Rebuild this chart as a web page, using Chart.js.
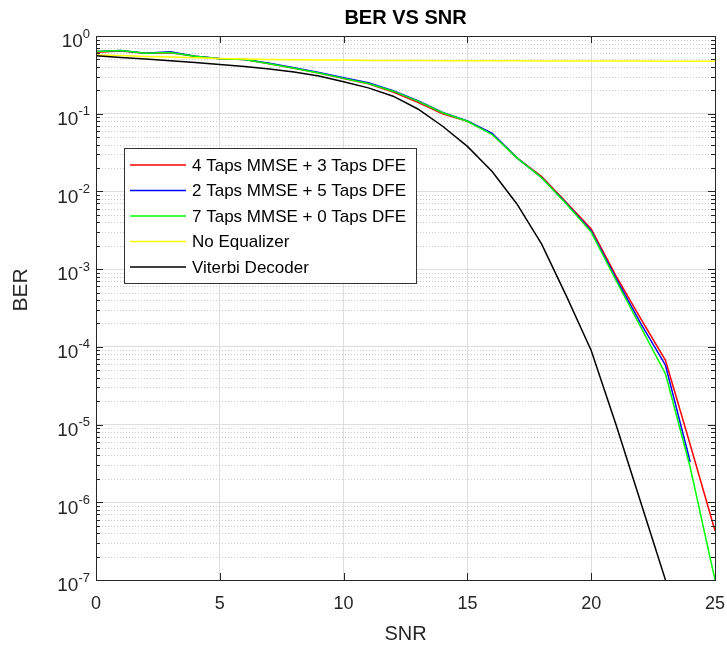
<!DOCTYPE html>
<html>
<head>
<meta charset="utf-8">
<script src="https://cdn.jsdelivr.net/npm/chart.js@4.4.1/dist/chart.umd.min.js"></script>
<style>
  html, body { margin: 0; padding: 0; background: #ffffff; }
  #wrap { width: 727px; height: 646px; position: relative; }
</style>
</head>
<body>
<div id="wrap"><canvas id="c"></canvas></div>
<script>
// ---- data ----
const snr = [0,1,2,3,4,5,6,7,8,9,10,11,12,13,14,15,16,17,18,19,20,21,22,23,24,25];
const mmse4dfe3 = [0.62,0.64,0.6,0.61,0.55,0.51,0.5,0.44,0.385,0.335,0.283,0.243,0.19,0.14,0.1,0.08,0.055,0.027,0.0155,0.0072,0.0033,8.2e-4,2.3e-4,6.7e-5,5.5e-6,4.3e-7];
const mmse2dfe5 = [0.63,0.65,0.6,0.625,0.55,0.515,0.5,0.445,0.39,0.338,0.29,0.25,0.197,0.147,0.104,0.081,0.056,0.027,0.015,0.007,0.0031,7.6e-4,2.0e-4,5.8e-5,3.3e-6,null];
const mmse7dfe0 = [0.63,0.65,0.6,0.615,0.55,0.51,0.5,0.44,0.385,0.335,0.285,0.245,0.195,0.145,0.103,0.08,0.054,0.027,0.015,0.0069,0.003,7.2e-4,1.8e-4,4.5e-5,2.8e-6,1e-7];
const noEqualizer = [0.57,0.56,0.545,0.535,0.525,0.515,0.505,0.5,0.495,0.49,0.49,0.485,0.485,0.485,0.48,0.48,0.48,0.48,0.478,0.478,0.478,0.476,0.476,0.475,0.475,0.475];
const viterbi = [0.555,0.53,0.505,0.48,0.455,0.43,0.405,0.375,0.345,0.305,0.258,0.215,0.168,0.115,0.069,0.038,0.018,0.0069,0.0021,4.5e-4,9e-5,1e-5,1e-6,1e-7,null,null];

const seriesLabels = ['4 Taps MMSE + 3 Taps DFE','2 Taps MMSE + 5 Taps DFE','7 Taps MMSE + 0 Taps DFE','No Equalizer','Viterbi Decoder'];
const seriesColors = ['#ff0000','#0000ff','#00ff00','#ffff00','#000000'];
const seriesValues = [mmse4dfe3, mmse2dfe5, mmse7dfe0, noEqualizer, viterbi];

const xTicks = [0,5,10,15,20,25];
const yExponents = [0,-1,-2,-3,-4,-5,-6,-7];
const chartTitle = 'BER VS SNR';
const xTitle = 'SNR';
const yTitle = 'BER';

const FONT = 'Arial, "Liberation Sans", Helvetica, sans-serif';
const AXIS = '#262626';

const datasets = seriesValues.map((vals, i) => ({
  label: seriesLabels[i],
  data: snr.map((x, j) => ({ x: x, y: vals[j] })),
  borderColor: seriesColors[i],
  backgroundColor: seriesColors[i],
  borderWidth: 1.5,
  pointRadius: 0,
  tension: 0,
  spanGaps: false,
  fill: false,
  order: seriesValues.length - i
}));

const overlay = {
  id: 'overlay',
  beforeDatasetsDraw(chart) {
    const { ctx, chartArea: a, scales: { y } } = chart;
    ctx.save();
    ctx.strokeStyle = '#cccccc';
    ctx.lineWidth = 1;
    ctx.setLineDash([1, 2]);
    for (let e = -7; e < 0; e++) {
      for (let k = 2; k <= 9; k++) {
        const py = Math.round(y.getPixelForValue(k * Math.pow(10, e))) + 0.5;
        ctx.beginPath();
        ctx.moveTo(a.left, py);
        ctx.lineTo(a.right, py);
        ctx.stroke();
      }
    }
    ctx.restore();
  },
  afterDatasetsDraw(chart) {
    const { ctx, chartArea: a, scales: { x, y } } = chart;
    ctx.save();
    // box
    ctx.strokeStyle = AXIS;
    ctx.lineWidth = 1;
    ctx.setLineDash([]);
    ctx.strokeRect(Math.round(a.left) + 0.5, Math.round(a.top) + 0.5, Math.round(a.right - a.left), Math.round(a.bottom - a.top));
    // y tick marks
    ctx.beginPath();
    for (let e = -7; e <= 0; e++) {
      for (let k = 1; k <= 9; k++) {
        if (e === 0 && k > 1) break;
        const py = Math.round(y.getPixelForValue(k * Math.pow(10, e))) + 0.5;
        const len = k === 1 ? 7 : 4;
        ctx.moveTo(a.left, py); ctx.lineTo(a.left + len, py);
        ctx.moveTo(a.right, py); ctx.lineTo(a.right - len, py);
      }
    }
    // x tick marks
    xTicks.forEach(v => {
      const px = Math.round(x.getPixelForValue(v)) + 0.5;
      ctx.moveTo(px, a.bottom); ctx.lineTo(px, a.bottom - 7);
      ctx.moveTo(px, a.top); ctx.lineTo(px, a.top + 7);
    });
    ctx.stroke();

    // x tick labels
    ctx.fillStyle = AXIS;
    ctx.font = '18px ' + FONT;
    ctx.textAlign = 'center';
    ctx.textBaseline = 'middle';
    xTicks.forEach(v => {
      ctx.fillText(String(v), x.getPixelForValue(v), a.bottom + 24);
    });
    // y tick labels with superscripts
    yExponents.forEach(e => {
      const py = y.getPixelForValue(Math.pow(10, e));
      const exp = e === 0 ? '0' : '-' + Math.abs(e);
      ctx.font = '13px ' + FONT;
      const ew = ctx.measureText(exp).width;
      const right = a.left - 6;
      ctx.textAlign = 'left';
      ctx.fillText(exp, right - ew, py - 2);
      ctx.font = '19px ' + FONT;
      ctx.textAlign = 'right';
      ctx.fillText('10', right - ew, py + 6);
    });
    // axis titles
    ctx.textAlign = 'center';
    ctx.font = '20px ' + FONT;
    ctx.fillText(xTitle, (a.left + a.right) / 2, a.bottom + 54);
    ctx.save();
    ctx.translate(21, 290);
    ctx.rotate(-Math.PI / 2);
    ctx.font = '21px ' + FONT;
    ctx.fillText(yTitle, 0, 0);
    ctx.restore();
    // title
    ctx.fillStyle = '#000000';
    ctx.font = 'bold 20px ' + FONT;
    ctx.fillText(chartTitle, (a.left + a.right) / 2, 18);

    // legend
    const lx = 124.5, ly = 148.5, lw = 292, lh = 135;
    ctx.fillStyle = '#ffffff';
    ctx.fillRect(lx, ly, lw, lh);
    ctx.strokeStyle = '#333333';
    ctx.lineWidth = 1;
    ctx.strokeRect(lx, ly, lw, lh);
    ctx.font = '17px ' + FONT;
    ctx.textAlign = 'left';
    ctx.textBaseline = 'middle';
    chart.data.datasets.forEach((ds, i) => {
      const ry = 165 + i * 25.5;
      ctx.strokeStyle = ds.borderColor;
      ctx.lineWidth = 1.5;
      ctx.beginPath();
      ctx.moveTo(130, ry); ctx.lineTo(186, ry);
      ctx.stroke();
      ctx.fillStyle = '#000000';
      ctx.fillText(ds.label, 192, ry + 1);
    });
    ctx.restore();
  }
};

new Chart(document.getElementById('c'), {
  type: 'line',
  data: { datasets: datasets },
  options: {
    responsive: true,
    maintainAspectRatio: false,
    animation: false,
    layout: { padding: { left: 96, right: 12, top: 36, bottom: 66 } },
    plugins: { legend: { display: false }, tooltip: { enabled: false }, title: { display: false } },
    scales: {
      x: {
        type: 'linear', min: 0, max: 25,
        afterBuildTicks: (s) => { s.ticks = xTicks.map(v => ({ value: v })); },
        ticks: { display: false },
        grid: { color: '#dddddd', lineWidth: 1, drawTicks: false },
        border: { display: false }
      },
      y: {
        type: 'logarithmic', min: 1e-7, max: 1,
        afterBuildTicks: (s) => { s.ticks = yExponents.map(e => ({ value: Math.pow(10, e) })); },
        ticks: { display: false },
        grid: { color: '#dddddd', lineWidth: 1, drawTicks: false },
        border: { display: false }
      }
    }
  },
  plugins: [overlay]
});
</script>
</body>
</html>
